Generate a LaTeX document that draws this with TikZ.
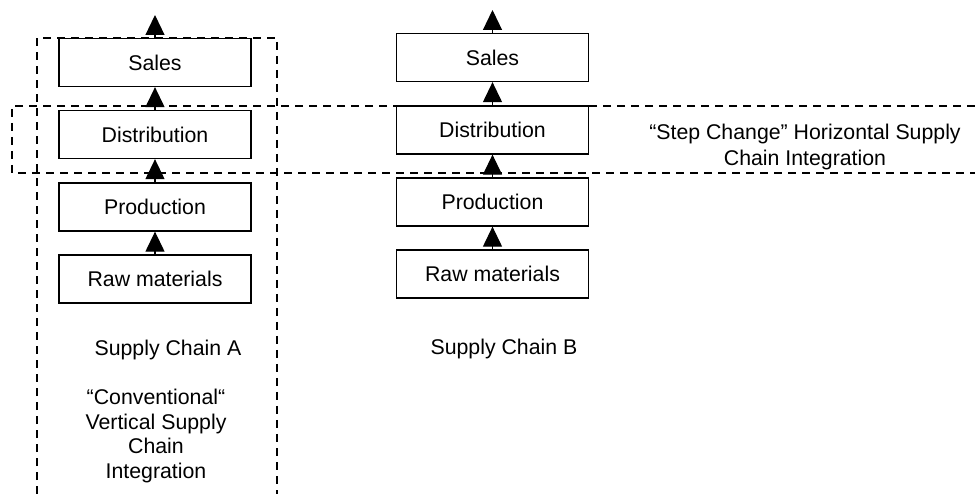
\documentclass[tikz,border=0pt]{standalone}
\usepackage{fontspec}
\setmainfont{Liberation Sans}
\usetikzlibrary{arrows.meta}
\begin{document}
\begin{tikzpicture}[x=1pt,y=-1pt,
  every node/.style={font=\fontsize{21.3}{24.5}\selectfont, inner sep=0pt},
  stagebox/.style={draw=black, line width=1.3pt, minimum width=192pt, minimum height=48pt},
  arr/.style={line width=1.2pt, -{Triangle[width=19pt,length=20pt]}},
  dashline/.style={line width=1.3pt, dash pattern=on 8pt off 6pt}]
\useasboundingbox (0,0) rectangle (975,494);
% dashed groupings
\draw[dashline] (37,494) -- (37,38) -- (277,38) -- (277,494);
\draw[dashline] (975,106) -- (12,106) -- (12,173) -- (975,173);
% chain A
\node[stagebox] (salesA) at (155,62.5) {Sales};
\node[stagebox] (distA) at (155,134.5) {Distribution};
\node[stagebox] (prodA) at (155,207) {Production};
\node[stagebox] (rawA) at (155,279) {Raw materials};
\coordinate (topA) at (155,15);
\draw[arr] (rawA.north) -- (prodA.south);
\draw[arr] (prodA.north) -- (distA.south);
\draw[arr] (distA.north) -- (salesA.south);
\draw[arr] (salesA.north) -- (topA);
% chain B
\node[stagebox] (salesB) at (492.5,57.5) {Sales};
\node[stagebox] (distB) at (492.5,130) {Distribution};
\node[stagebox] (prodB) at (492.5,202) {Production};
\node[stagebox] (rawB) at (492.5,274) {Raw materials};
\coordinate (topB) at (492.5,10);
\draw[arr] (rawB.north) -- (prodB.south);
\draw[arr] (prodB.north) -- (distB.south);
\draw[arr] (distB.north) -- (salesB.south);
\draw[arr] (salesB.north) -- (topB);
% labels
\node (labA) at (168,350) {Supply Chain A};
\node (labB) at (504,349) {Supply Chain B};
\node[align=center] (conv) at (156,436) {“Conventional“\\Vertical Supply\\Chain\\Integration};
\node[align=center, font=\fontsize{21.3}{26}\selectfont] (step) at (805,147) {“Step Change” Horizontal Supply\\Chain Integration};
\end{tikzpicture}
\end{document}
